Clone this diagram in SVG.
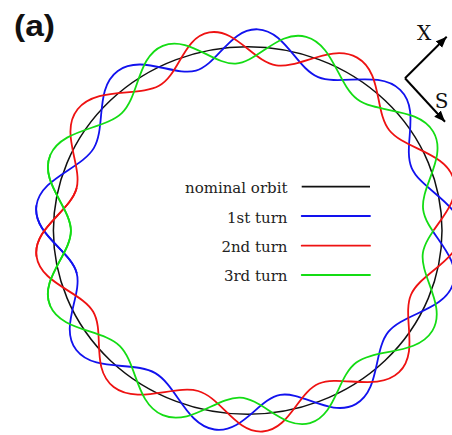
<svg xmlns="http://www.w3.org/2000/svg" width="452" height="435" viewBox="0 0 452 435">
<defs>
<style>
.t{fill:none;stroke-width:1.8;stroke-linejoin:round;stroke-linecap:round}
.b{stroke:#1212ee}
.r{stroke:#ee1212}
.g{stroke:#14dc14}
.k{stroke:#111;stroke-width:1.5;fill:none}
.lbl{font-family:"DejaVu Serif","Liberation Serif",serif;font-size:15px;fill:#222;text-anchor:end}
.ax{font-family:"DejaVu Serif","Liberation Serif",serif;font-size:20px;fill:#111;text-anchor:middle}
</style>
<clipPath id="lo"><rect x="0" y="0" width="300" height="435"/><rect x="0" y="230.5" width="452" height="204.5"/></clipPath>
<clipPath id="up"><rect x="0" y="0" width="300" height="435"/><rect x="0" y="0" width="452" height="230.5"/></clipPath>
<marker id="ah" markerWidth="12" markerHeight="10" refX="11" refY="4.5" orient="auto" markerUnits="userSpaceOnUse"><path d="M0,0 L11,4.5 L0,9 z" fill="#000"/></marker>
</defs>
<rect width="452" height="435" fill="#fff"/>
<text x="14" y="36" font-family="Liberation Sans, Arial, sans-serif" font-weight="bold" font-size="30" textLength="41" lengthAdjust="spacingAndGlyphs" fill="#111">(a)</text>
<g id="connectors">
<g id="nominal-orbit"><ellipse class="k" cx="247.7" cy="230.5" rx="194.3" ry="183.8"/></g>
<g id="turn1">
<path class="t b" clip-path="url(#lo)" d="M423.2,209.8 C426.2,233.2 461.1,255.6 453.3,283 S403.4,313.1 388.3,331.9 S380.3,390.4 355.8,404.1 S302,391 280.2,394.9 S242.5,433.7 214.4,429.5 S176.6,385.5 155.3,373.1 S93.9,372.6 76.3,350 S82.7,294.9 76.6,272.7 S32.7,233.9 36.4,205.9"/>
<path class="t b" clip-path="url(#up)" d="M76.6,272.7 C70.5,250.4 32.7,233.9 36.4,205.9 S81.3,169.1 93.8,148.1 S94.5,87.9 117.8,70.9 S174.4,76.8 196,70.6 S230.4,28.1 257.7,29.3 S296.1,68 318.2,77.1 S379.3,69.6 400.2,89.9 S402.3,145.9 411.6,167.8 S460.8,203.1 460.7,231.6 S420.5,273 410.9,294.8"/>
</g>
<g id="turn2">
<path class="t r" clip-path="url(#lo)" d="M411.7,168.1 C421,190 460.8,203.2 460.7,231.6 S420.6,272.8 411.1,294.5 S419.8,352.4 399.1,372.2 S340.2,374.7 319,383.5 S289.6,429.7 262.6,431.5 S221.2,397.4 198.1,391 S137.1,405 113.7,387 S105.1,332.1 93.2,311.8 S40.2,283.7 36.5,256.1 S70.3,211.4 76.5,188.6"/>
<path class="t r" clip-path="url(#up)" d="M36.5,256.1 C32.7,228.5 70.3,211.4 76.5,188.6 S59.2,132.4 77.6,109.3 S138.4,97.1 159,85.8 S183.1,36.9 209.3,32.4 S253.4,61.9 276.3,65.4 S331.6,43.2 357.1,57.6 S374.3,111.4 389.3,130.3 S446.2,152.2 453.8,179.7 S426.3,229.5 422.9,252.9"/>
</g>
<g id="turn3">
<path class="t g" clip-path="url(#lo)" d="M453.9,180.1 C461.4,207.5 426.3,229.6 422.9,252.9 S447.3,306.3 432.3,330.9 S375.4,348.4 356.3,362.5 S336.1,415.6 310,423.1 S262.7,398.5 240,397.6 S189.9,426.4 162.8,415.2 S137.1,363.2 119.9,346.1 S61.1,331.5 50.1,305.6 S70.9,254.1 70.9,230.8 S38.9,181.5 50.3,155"/>
<path class="t g" clip-path="url(#up)" d="M50.1,305.6 C39.1,279.8 70.9,254.1 70.9,230.8 S38.9,181.5 50.3,155 S104.3,129.9 121.8,113.1 S137.1,56.3 162.8,45.8 S213.6,65 235.7,63.6 S278.7,29.4 306.1,36.8 S337.6,84.5 357.3,99.2 S418.4,106.8 433.2,131.6 S420.1,186.4 423.2,209.8 S461.1,255.5 453.3,283"/>
</g>
</g>
<g id="axes">
<line x1="405" y1="78.3" x2="446.7" y2="36.7" stroke="#000" stroke-width="2" marker-end="url(#ah)"/>
<line x1="405" y1="78.3" x2="445" y2="121.7" stroke="#000" stroke-width="2" marker-end="url(#ah)"/>
<text class="ax" x="424" y="40">X</text>
<text class="ax" x="441.5" y="108.3">S</text>
</g>
<g id="legend">
<text class="lbl" x="287.5" y="193.3">nominal orbit</text>
<text class="lbl" x="287.5" y="222.7">1st turn</text>
<text class="lbl" x="287.5" y="251.7">2nd turn</text>
<text class="lbl" x="287.5" y="281">3rd turn</text>
<line x1="301.7" y1="186.7" x2="370" y2="186.7" stroke="#111" stroke-width="1.8"/>
<line class="t b" x1="301.7" y1="216" x2="370" y2="216"/>
<line class="t r" x1="301.7" y1="245.7" x2="370" y2="245.7"/>
<line class="t g" x1="301.7" y1="275" x2="370" y2="275"/>
</g>
</svg>
